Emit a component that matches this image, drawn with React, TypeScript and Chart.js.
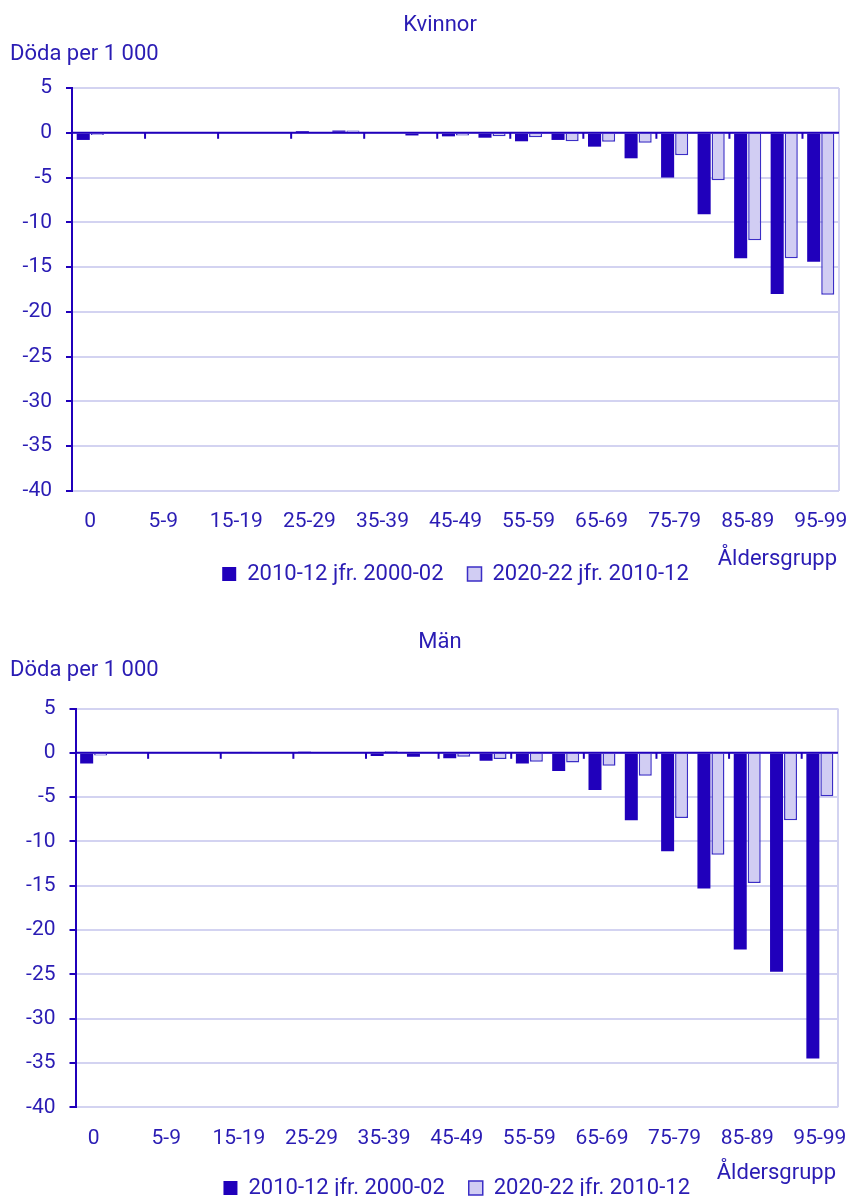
import React, { useEffect, useRef } from 'react';
import { Chart, registerables } from 'chart.js';

Chart.register(...registerables);

// ---------- data ----------
const ageGroups = [
  '0', '1-4', '5-9', '10-14', '15-19', '20-24', '25-29', '30-34', '35-39', '40-44',
  '45-49', '50-54', '55-59', '60-64', '65-69', '70-74', '75-79', '80-84', '85-89', '90-94', '95-99',
];
const legendLabels = ['2010-12 jfr. 2000-02', '2020-22 jfr. 2010-12'];

const kvinnor2010 = [-0.8, 0, 0, 0, 0, 0, 0.2, 0.25, 0, -0.3, -0.4, -0.55, -0.95, -0.8, -1.55, -2.85, -5.0, -9.1, -14.0, -18.0, -14.4];
const kvinnor2020 = [-0.25, 0, 0, 0, 0, 0, 0, 0.25, 0, 0, -0.3, -0.4, -0.5, -0.95, -1.0, -1.1, -2.5, -5.3, -12.0, -14.0, -18.1];

const man2010 = [-1.2, 0, 0, 0, 0, 0, 0.15, 0, -0.35, -0.45, -0.6, -0.9, -1.2, -2.05, -4.2, -7.6, -11.1, -15.3, -22.2, -24.7, -34.5];
const man2020 = [-0.3, 0, 0, 0, 0.15, 0, 0, 0, 0.2, 0, -0.45, -0.7, -1.0, -1.1, -1.45, -2.6, -7.35, -11.5, -14.7, -7.6, -4.9];

const yMin = -40;
const yMax = 5;
const yStep = 5;
const unitLabel = 'Döda per 1 000';
const xAxisLabel = 'Åldersgrupp';
const titleKvinnor = 'Kvinnor';
const titleMan = 'Män';

// ---------- styles ----------
const DARK = '#2000bb';
const TEXT = '#2a1cb4';
const LIGHT_FILL = '#d1cdf3';
const LIGHT_BORDER = '#3b2ec6';
const GRID = '#d3d3f1';
const FONT = 'Roboto, "Noto Sans", sans-serif';
const FS_TICK = 21;
const FS_TEXT = 22;

const decor = {
  id: 'decor',
  afterDraw(chart: any, _args: any, o: any) {
    const { ctx, chartArea: ca, scales } = chart;
    const xs = scales.x;
    const ys = scales.y;
    const y0 = ys.getPixelForValue(0);
    ctx.save();
    // right frame
    ctx.strokeStyle = GRID;
    ctx.lineWidth = 2;
    ctx.beginPath();
    ctx.moveTo(ca.right, ca.top);
    ctx.lineTo(ca.right, ca.bottom);
    ctx.stroke();
    // zero line + category ticks
    ctx.strokeStyle = DARK;
    ctx.lineWidth = 2;
    ctx.beginPath();
    ctx.moveTo(ca.left, y0);
    ctx.lineTo(ca.right, y0);
    ctx.stroke();
    const n = chart.data.labels.length;
    for (let i = 2; i < n; i += 2) {
      const bx = (xs.getPixelForValue(i - 1) + xs.getPixelForValue(i)) / 2;
      ctx.beginPath();
      ctx.moveTo(bx, y0);
      ctx.lineTo(bx, y0 + 6);
      ctx.stroke();
    }
    // texts
    ctx.fillStyle = TEXT;
    ctx.font = `${FS_TEXT}px ${FONT}`;
    ctx.textBaseline = 'middle';
    ctx.textAlign = 'center';
    ctx.fillText(o.title, o.titleX, o.titleY);
    ctx.textAlign = 'left';
    ctx.fillText(unitLabel, o.unitX, o.unitY);
    ctx.textAlign = 'right';
    ctx.fillText(xAxisLabel, ca.right - 2, ca.bottom + o.xTitleOffset);
    ctx.restore();
  },
};

type Cfg = {
  title: string;
  a: number[];
  b: number[];
  height: number;
  padTop: number;
  padRight: number;
  padBottom: number;
  yWidth: number;
  xPad: number;
  xHeight: number;
  titleX: number;
  titleY: number;
  unitX: number;
  unitY: number;
  xTitleOffset: number;
};

function BarPanel({ cfg }: { cfg: Cfg }) {
  const ref = useRef<HTMLCanvasElement>(null);
  useEffect(() => {
    const tickFont = { family: FONT, size: FS_TICK };
    const textFont = { family: FONT, size: FS_TEXT };
    const chart = new Chart(ref.current as HTMLCanvasElement, {
      type: 'bar',
      data: {
        labels: ageGroups,
        datasets: [
          {
            label: legendLabels[0],
            data: cfg.a,
            backgroundColor: DARK,
            borderColor: DARK,
            borderWidth: 0,
            categoryPercentage: 0.77,
            barPercentage: 0.93,
          },
          {
            label: legendLabels[1],
            data: cfg.b,
            backgroundColor: LIGHT_FILL,
            borderColor: LIGHT_BORDER,
            borderWidth: 1.5,
            categoryPercentage: 0.77,
            barPercentage: 0.93,
          },
        ],
      },
      options: {
        responsive: false,
        animation: false,
        devicePixelRatio: 1,
        layout: { padding: { top: cfg.padTop, left: 0, right: cfg.padRight, bottom: cfg.padBottom } },
        scales: {
          x: {
            grid: { display: false, drawTicks: false },
            border: { display: false },
            ticks: {
              autoSkip: false,
              maxRotation: 0,
              minRotation: 0,
              padding: cfg.xPad,
              color: TEXT,
              font: tickFont,
              callback: (_v: any, i: number) => (i % 2 === 0 ? ageGroups[i] : ''),
            },
            afterFit: (s: any) => {
              s.height = cfg.xHeight;
              s.paddingLeft = 0;
              s.paddingRight = 0;
            },
          },
          y: {
            min: yMin,
            max: yMax,
            ticks: { stepSize: yStep, padding: 14, color: TEXT, font: tickFont },
            grid: { color: GRID, lineWidth: 2, tickColor: DARK, tickLength: 6, tickWidth: 2 },
            border: { display: true, color: DARK, width: 2 },
            afterFit: (s: any) => {
              s.width = cfg.yWidth;
            },
          },
        },
        plugins: {
          legend: {
            position: 'bottom',
            fullSize: false,
            labels: { color: TEXT, font: textFont, boxWidth: 14, boxHeight: 14, padding: 24 },
          },
          tooltip: { enabled: false },
          decor: {
            title: cfg.title,
            titleX: cfg.titleX,
            titleY: cfg.titleY,
            unitX: cfg.unitX,
            unitY: cfg.unitY,
            xTitleOffset: cfg.xTitleOffset,
          },
        } as any,
      },
      plugins: [decor],
    });
    return () => chart.destroy();
  }, []);
  return <canvas ref={ref} width={847} height={cfg.height} style={{ display: 'block' }} />;
}

const kvinnorCfg: Cfg = {
  title: titleKvinnor,
  a: kvinnor2010,
  b: kvinnor2020,
  height: 600,
  padTop: 88,
  padRight: 8,
  padBottom: 5,
  yWidth: 72,
  xPad: 18,
  xHeight: 48,
  titleX: 440,
  titleY: 25,
  unitX: 10,
  unitY: 54,
  xTitleOffset: 68,
};

const manCfg: Cfg = {
  title: titleMan,
  a: man2010,
  b: man2020,
  height: 620,
  padTop: 108.5,
  padRight: 9,
  padBottom: 11,
  yWidth: 75.5,
  xPad: 19,
  xHeight: 45.7,
  titleX: 440,
  titleY: 42,
  unitX: 10,
  unitY: 70,
  xTitleOffset: 66,
};

export default function App() {
  return (
    <div
      style={{
        position: 'fixed',
        left: 0,
        top: 0,
        width: 847,
        height: 1196,
        overflow: 'hidden',
        background: '#ffffff',
      }}
    >
      <BarPanel cfg={kvinnorCfg} />
      <BarPanel cfg={manCfg} />
    </div>
  );
}
